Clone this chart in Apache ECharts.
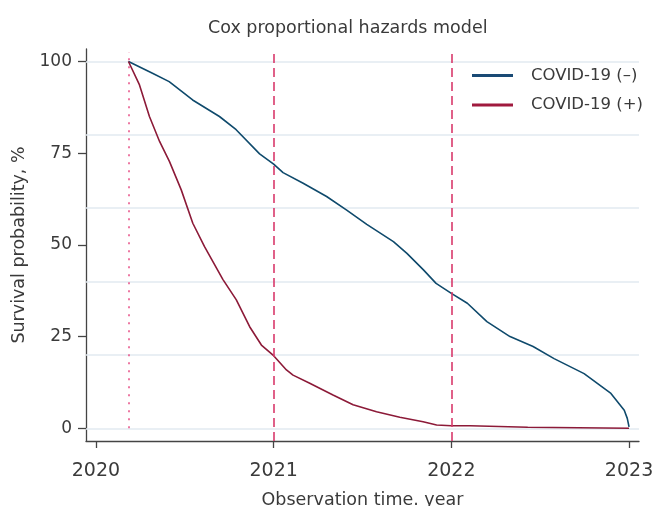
<!DOCTYPE html>
<html>
<head>
<meta charset="utf-8">
<script src="https://cdn.jsdelivr.net/npm/echarts@6/dist/echarts.min.js"></script>
<style>
  html, body { margin: 0; padding: 0; background: #fff; }
  #chart { width: 652px; height: 506px; }
</style>
</head>
<body>
<div id="chart"></div>
<script>
// axis ticks
const yearTicks = [2020, 2021, 2022, 2023];
const pctTicks = [0, 25, 50, 75, 100];
const pctGrid = [0, 20, 40, 60, 80, 100];

// reference lines
const studyStart = 2020.183;
const yearMarks = [2021, 2022];

// COVID-19 (–)
const negYears = [2020.183, 2020.318, 2020.412, 2020.544, 2020.695, 2020.789, 2020.921, 2021.0,
  2021.053, 2021.166, 2021.298, 2021.411, 2021.524, 2021.674, 2021.750, 2021.843, 2021.914,
  2022.0, 2022.09, 2022.2, 2022.33, 2022.46, 2022.578, 2022.747, 2022.898, 2022.973, 2022.99, 2023.0];
const negSurv = [100, 96.8, 94.5, 89.5, 85.0, 81.4, 74.8, 72.0,
  69.7, 66.8, 63.2, 59.5, 55.6, 50.9, 47.7, 43.2, 39.5,
  36.8, 34.1, 29.1, 25.0, 22.3, 19.0, 14.9, 9.5, 4.9, 2.7, 0.4];

// COVID-19 (+)
const posYears = [2020.183, 2020.245, 2020.301, 2020.358, 2020.414, 2020.480, 2020.545, 2020.611,
  2020.714, 2020.790, 2020.865, 2020.931, 2021.0, 2021.072, 2021.109, 2021.203, 2021.334,
  2021.447, 2021.579, 2021.710, 2021.841, 2021.917, 2022.0, 2022.105, 2022.107, 2022.43, 2022.435, 2023.0];
const posSurv = [100, 93.6, 85.0, 78.2, 72.7, 65.0, 55.9, 49.5,
  40.6, 35.0, 27.7, 22.7, 19.8, 15.9, 14.5, 12.3, 9.1,
  6.4, 4.5, 3.0, 1.8, 0.9, 0.7, 0.7, 0.3, 0.3, 0, 0];

const FONT = 'DejaVu Sans';
const TEXT = '#3a3a3a';
const MARK = '#d93a6c';

const zip = (xs, ys) => xs.map((x, i) => [x, ys[i]]);

const chart = echarts.init(document.getElementById('chart'));

chart.setOption({
  animation: false,
  textStyle: { fontFamily: FONT, color: TEXT },
  title: {
    text: 'Cox proportional hazards model',
    left: 203,
    top: 14,
    textStyle: { fontFamily: FONT, fontSize: 17.5, fontWeight: 'normal', color: TEXT }
  },
  legend: {
    data: ['COVID-19 (–)', 'COVID-19 (+)'],
    orient: 'vertical',
    left: 467,
    top: 62,
    itemWidth: 41,
    itemHeight: 3,
    itemGap: 12.5,
    icon: 'rect',
    textStyle: { fontFamily: FONT, fontSize: 16.5, color: TEXT, padding: [0, 0, 0, 13] }
  },
  grid: { left: 86, right: 13, top: 49, bottom: 65, outerBoundsMode: 'none', containLabel: false },
  xAxis: {
    type: 'value',
    min: 2019.944,
    max: 2023.056,
    name: 'Observation time. year',
    nameLocation: 'middle',
    nameGap: 50,
    nameTextStyle: { fontFamily: FONT, fontSize: 17.5, color: TEXT },
    axisLine: { show: true, onZero: false, lineStyle: { color: '#444', width: 1.3 } },
    axisTick: { show: true, length: 7, customValues: yearTicks, lineStyle: { color: '#444', width: 1.3 } },
    axisLabel: {
      customValues: yearTicks,
      margin: 21,
      fontFamily: FONT,
      fontSize: 19,
      color: TEXT,
      formatter: v => String(v)
    },
    splitLine: { show: false }
  },
  yAxis: {
    type: 'value',
    min: -3.46,
    max: 103.4,
    name: 'Survival probability, %',
    nameLocation: 'middle',
    nameGap: 49,
    nameTextStyle: { fontFamily: FONT, fontSize: 17.5, color: TEXT },
    axisLine: { show: true, onZero: false, lineStyle: { color: '#444', width: 1.3 } },
    axisTick: { show: true, length: 8, customValues: pctTicks, lineStyle: { color: '#444', width: 1.3 } },
    axisLabel: { customValues: pctTicks, margin: 14, fontFamily: FONT, fontSize: 17, color: TEXT },
    splitLine: { show: false }
  },
  series: [
    {
      // horizontal gridlines
      name: 'grid',
      type: 'line',
      data: [],
      z: 1,
      silent: true,
      markLine: {
        z: 1,
        silent: true,
        symbol: 'none',
        label: { show: false },
        lineStyle: { color: '#e2eaf0', width: 1.6, type: 'solid' },
        data: pctGrid.map(v => ({ yAxis: v }))
      }
    },
    {
      name: 'COVID-19 (–)',
      type: 'line',
      data: zip(negYears, negSurv),
      showSymbol: false,
      z: 3,
      color: '#1a4a75',
      lineStyle: { color: '#0f4a6c', width: 1.6 }
    },
    {
      name: 'COVID-19 (+)',
      type: 'line',
      data: zip(posYears, posSurv),
      showSymbol: false,
      z: 3,
      color: '#a01a3e',
      lineStyle: { color: '#8c1a38', width: 1.6 }
    },
    {
      // vertical reference lines
      name: 'marks',
      type: 'line',
      data: [],
      z: 4,
      silent: true,
      markLine: {
        z: 4,
        silent: true,
        symbol: 'none',
        label: { show: false },
        data: [
          [
            { coord: [studyStart, 0], lineStyle: { color: '#e8588c', width: 1.6, type: [2, 6] } },
            { coord: [studyStart, 102.6] }
          ],
          ...yearMarks.map(y => ({ xAxis: y, lineStyle: { color: MARK, width: 1.6, type: [9, 5] } }))
        ]
      }
    }
  ]
});
</script>
</body>
</html>
